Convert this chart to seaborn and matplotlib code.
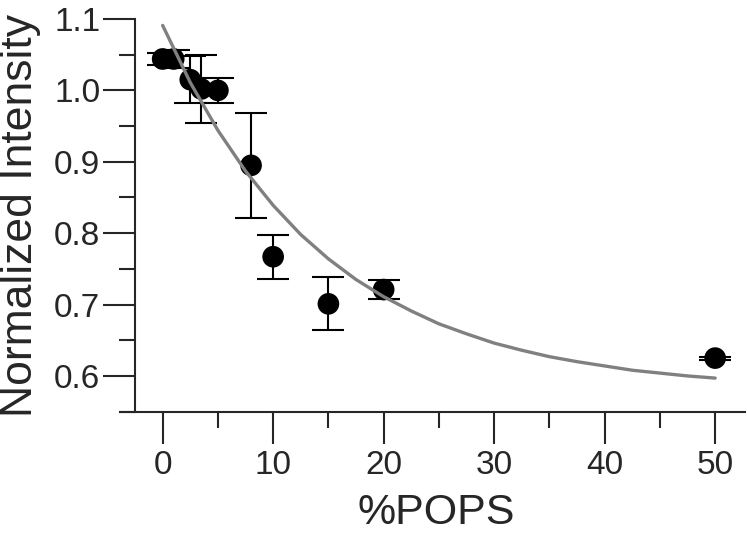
import matplotlib
matplotlib.use("Agg")
import matplotlib.pyplot as plt
import seaborn as sns
from matplotlib.ticker import MultipleLocator

# data
pops = [0, 1, 2.5, 3.5, 5, 8, 10, 15, 20, 50]
intensity = [1.044, 1.044, 1.015, 1.002, 1.000, 0.895, 0.767, 0.701, 0.721, 0.625]
err = [0.009, 0.012, 0.033, 0.047, 0.018, 0.074, 0.031, 0.037, 0.013, 0.002]

# fitted curve (gray)
fit_x = [0, 2.5, 5, 7.5, 10, 12.5, 15, 17.5, 20, 22.5, 25, 27.5, 30,
         32.5, 35, 37.5, 40, 42.5, 45, 47.5, 50]
fit_y = [1.091, 1.011, 0.944, 0.887, 0.839, 0.798, 0.764, 0.735, 0.711, 0.691,
         0.673, 0.659, 0.646, 0.636, 0.627, 0.620, 0.614, 0.608, 0.604, 0.600, 0.597]

sns.set_style("ticks")
plt.rcParams['font.family'] = ['Liberation Sans', 'DejaVu Sans']

fig = plt.figure(figsize=(7.47, 5.36), dpi=100)
ax = fig.add_axes([120 / 747, 124 / 536, 625 / 747, 393 / 536])

ax.errorbar(pops, intensity, yerr=err, fmt='none', ecolor='black',
            elinewidth=1.5, capsize=11.5, capthick=1.5, zorder=2)
sns.scatterplot(x=pops, y=intensity, s=243, color='black', edgecolor='none',
                zorder=3, ax=ax)
sns.lineplot(x=fit_x, y=fit_y, color='#808080', lw=2.4, zorder=5, ax=ax)

ax.set_xlim(-3.86, 52.7)
ax.set_ylim(0.5495, 1.1)

# Igor-like axes
ax.spines['top'].set_visible(False)
ax.spines['right'].set_visible(False)
ax.spines['left'].set_position(('data', -2.5))
for s in ['left', 'bottom']:
    ax.spines[s].set_linewidth(1.5)

ax.xaxis.set_major_locator(MultipleLocator(10))
ax.xaxis.set_minor_locator(MultipleLocator(5))
ax.yaxis.set_major_locator(MultipleLocator(0.1))
ax.yaxis.set_minor_locator(MultipleLocator(0.05))
ax.tick_params(which='major', direction='out', length=23, width=1.5, labelsize=24)
ax.tick_params(which='minor', direction='out', length=11.5, width=1.5)
ax.tick_params(axis='y', which='major', pad=2)
ax.tick_params(axis='x', which='major', pad=4)
ax.yaxis.set_major_formatter(matplotlib.ticker.FormatStrFormatter('%.1f'))

ax.set_xlabel('%POPS', fontsize=31)
ax.set_ylabel('Normalized Intensity', fontsize=32)
ax.xaxis.set_label_coords(0.506, -0.205)
ax.yaxis.set_label_coords(-0.126, 0.5)

fig.savefig('out.png', dpi=100)
